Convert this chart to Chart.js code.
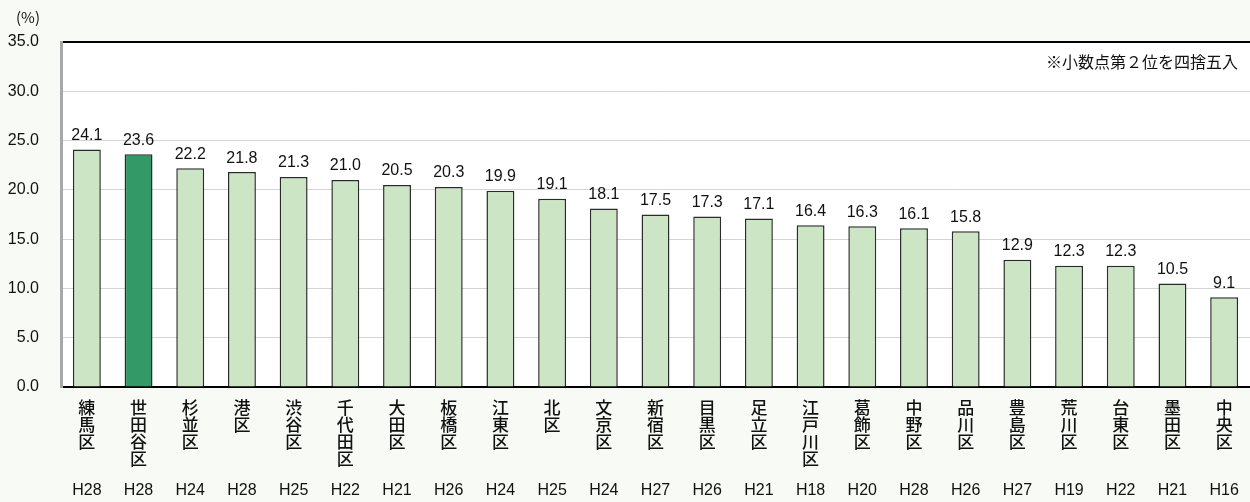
<!DOCTYPE html>
<html>
<head>
<meta charset="utf-8">
<script src="https://cdn.jsdelivr.net/npm/chart.js@4/dist/chart.umd.min.js"></script>
<style>
  html, body { margin: 0; padding: 0; background: #f8faf5; }
  #wrap { width: 1250px; height: 502px; position: relative; }
</style>
</head>
<body>
<div id="wrap"><canvas id="rateChart"></canvas></div>
<script>
const wards = ['練馬区', '世田谷区', '杉並区', '港区', '渋谷区', '千代田区', '大田区', '板橋区', '江東区', '北区', '文京区', '新宿区',
  '目黒区', '足立区', '江戸川区', '葛飾区', '中野区', '品川区', '豊島区', '荒川区', '台東区', '墨田区', '中央区'];
const surveyYears = ['H28', 'H28', 'H24', 'H28', 'H25', 'H22', 'H21', 'H26', 'H24', 'H25', 'H24', 'H27',
  'H26', 'H21', 'H18', 'H20', 'H28', 'H26', 'H27', 'H19', 'H22', 'H21', 'H16'];
const rates = [24.1, 23.6, 22.2, 21.8, 21.3, 21.0, 20.5, 20.3, 19.9, 19.1, 18.1, 17.5,
  17.3, 17.1, 16.4, 16.3, 16.1, 15.8, 12.9, 12.3, 12.3, 10.5, 9.1];
const highlightWard = '世田谷区';
const unitLabel = '(%)';
const noteText = '※小数点第２位を四捨五入';

const jpFont = '"Noto Sans CJK JP", sans-serif';
const numFont = '"Liberation Sans", Arial, sans-serif';

// white plot area + value labels + notes
const decorations = {
    id: 'decorations',
    beforeDraw(chart) {
        const { ctx, chartArea: a } = chart;
        ctx.save();
        ctx.fillStyle = '#ffffff';
        ctx.fillRect(a.left, a.top, a.right - a.left, a.bottom - a.top);
        ctx.restore();
    },
    afterDraw(chart) {
        const { ctx, chartArea: a } = chart;
        ctx.save();
        ctx.fillStyle = '#111';
        ctx.font = '16px ' + numFont;
        ctx.textAlign = 'center';
        ctx.textBaseline = 'bottom';
        chart.getDatasetMeta(0).data.forEach((bar, i) => {
            ctx.fillText(rates[i].toFixed(1), bar.x, bar.y - 6);
        });
        ctx.font = '15px ' + jpFont;
        ctx.textAlign = 'center';
        ctx.textBaseline = 'middle';
        ctx.fillText(unitLabel, 28, 17);
        ctx.font = '16px ' + jpFont;
        ctx.textAlign = 'right';
        ctx.fillText(noteText, a.right - 12, a.top + 20);
        ctx.restore();
    }
};

const ctx = document.getElementById('rateChart').getContext('2d');
new Chart(ctx, {
    type: 'bar',
    data: {
        labels: wards.map(w => w.split('')),
        datasets: [{
            data: rates,
            backgroundColor: wards.map(w => w === highlightWard ? '#339966' : '#cce5c5'),
            borderColor: '#2b2b2b',
            borderWidth: 1.5,
            barPercentage: 0.54,
            categoryPercentage: 1
        }]
    },
    options: {
        responsive: true,
        maintainAspectRatio: false,
        animation: false,
        layout: { padding: { top: 42, right: 0, left: 0, bottom: 0 } },
        plugins: {
            legend: { display: false },
            tooltip: { enabled: false }
        },
        scales: {
            x: {
                position: 'bottom',
                grid: { display: false, drawTicks: false },
                border: { color: '#000', width: 2 },
                afterFit: s => { s.height = 88; },
                ticks: {
                    color: '#111',
                    font: { family: jpFont, size: 17, weight: '500', lineHeight: 1.0 },
                    padding: 12,
                    maxRotation: 0,
                    autoSkip: false
                }
            },
            era: {
                type: 'category',
                position: 'bottom',
                labels: surveyYears,
                offset: true,
                afterFit: s => { s.height = 27; },
                grid: { display: false, drawTicks: false },
                border: { display: false },
                ticks: {
                    color: '#111',
                    font: { family: numFont, size: 16 },
                    padding: 6,
                    maxRotation: 0,
                    autoSkip: false
                }
            },
            y: {
                min: 0,
                max: 35,
                afterFit: s => { s.width = 61; },
                ticks: {
                    stepSize: 5,
                    color: '#111',
                    font: { family: numFont, size: 16 },
                    padding: 22,
                    callback: v => v.toFixed(1)
                },
                grid: {
                    drawTicks: false,
                    color: c => c.tick.value === 35 ? '#000' : (c.tick.value === 0 ? '#000' : '#d4d4d4'),
                    lineWidth: c => c.tick.value === 35 ? 2 : 1
                },
                border: { color: '#a8a8a8', width: 3 }
            }
        }
    },
    plugins: [decorations]
});
</script>
</body>
</html>
